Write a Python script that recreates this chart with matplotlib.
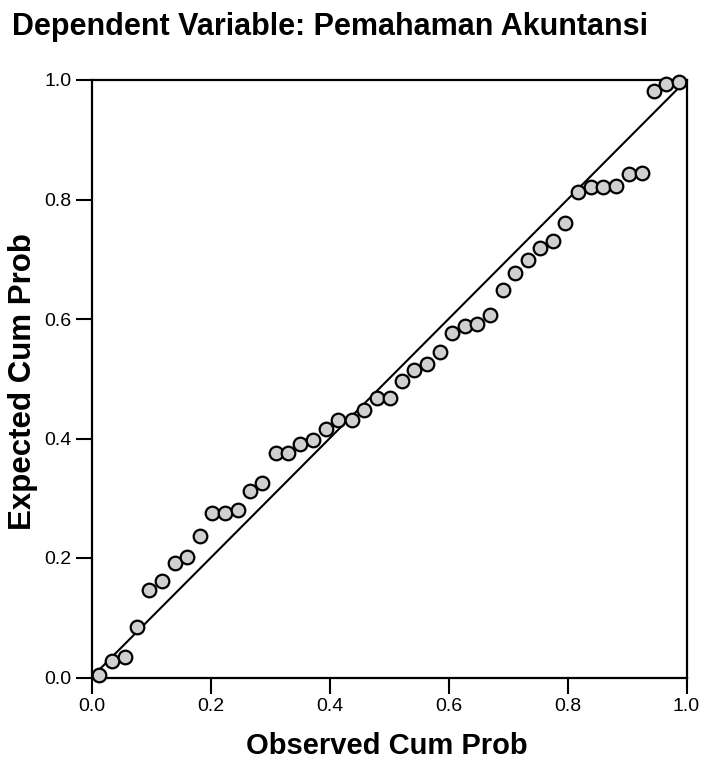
import matplotlib
matplotlib.use('Agg')
import matplotlib.pyplot as plt

plt.rcParams['font.family'] = ['Liberation Sans', 'DejaVu Sans']

# P-P plot values
observed_cum_prob = [0.013, 0.035, 0.056, 0.077, 0.097, 0.119, 0.141, 0.161, 0.182, 0.203,
                     0.225, 0.246, 0.267, 0.287, 0.310, 0.330, 0.351, 0.373, 0.394, 0.415,
                     0.437, 0.458, 0.479, 0.501, 0.522, 0.542, 0.564, 0.585, 0.606, 0.627,
                     0.648, 0.669, 0.691, 0.711, 0.733, 0.753, 0.775, 0.796, 0.818, 0.839,
                     0.860, 0.881, 0.903, 0.925, 0.945, 0.966, 0.988]
expected_cum_prob = [0.005, 0.027, 0.035, 0.085, 0.147, 0.161, 0.192, 0.202, 0.237, 0.275,
                     0.275, 0.280, 0.312, 0.326, 0.375, 0.375, 0.391, 0.398, 0.416, 0.431,
                     0.431, 0.447, 0.468, 0.468, 0.496, 0.515, 0.524, 0.544, 0.577, 0.588,
                     0.591, 0.607, 0.649, 0.677, 0.698, 0.719, 0.731, 0.761, 0.812, 0.821,
                     0.821, 0.822, 0.842, 0.845, 0.982, 0.994, 0.996]
ref_line = [0.0, 1.0]
ticks = [0.0, 0.2, 0.4, 0.6, 0.8, 1.0]

W, H = 707, 762
fig = plt.figure(figsize=(W / 100, H / 100), dpi=100)
# axes box in pixels: x 91.5..686.5, y 80..677.5 (from top)
ax = fig.add_axes([91.5 / W, (H - 677.5) / H, 595 / W, 597.5 / H])

ax.plot(ref_line, ref_line, color='black', lw=1.5, zorder=2)
ax.plot(observed_cum_prob, expected_cum_prob, linestyle='none', marker='o',
        markersize=9.8, markerfacecolor='#d0d0d0', markeredgecolor='black',
        markeredgewidth=1.6, clip_on=False, zorder=3)

ax.set_xlim(0, 1)
ax.set_ylim(0, 1)
ax.set_xticks(ticks)
ax.set_yticks(ticks)
ax.set_xticklabels(['%.1f' % t for t in ticks])
ax.set_yticklabels(['%.1f' % t for t in ticks])
ax.tick_params(direction='out', length=11.5, width=1.5, labelsize=14, pad=3,
               top=False, right=False)
for sp in ax.spines.values():
    sp.set_linewidth(1.6)

ax.set_xlabel('Observed Cum Prob', fontsize=21, fontweight='bold')
ax.set_ylabel('Expected Cum Prob', fontsize=22.5, fontweight='bold')
ax.xaxis.set_label_coords(0.496, (677.5 - 731.5) / 597.5)
ax.yaxis.set_label_coords((38 - 91.5) / 595, 0.4946)

fig.text(12 / W, 1 - 35 / H, 'Dependent Variable: Pemahaman Akuntansi',
         fontsize=22, fontweight='bold', ha='left', va='baseline')

fig.savefig('out.png', dpi=100)
